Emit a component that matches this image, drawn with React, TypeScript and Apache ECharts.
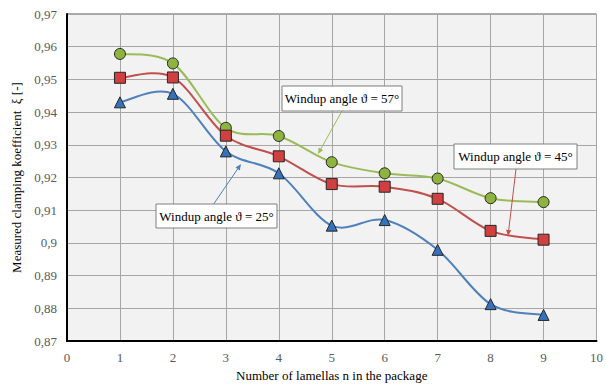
import React, { useEffect, useRef } from "react";
import * as echarts from "echarts";

// Number of lamellas in the package
const lamellas = [1, 2, 3, 4, 5, 6, 7, 8, 9];

// Measured clamping koefficient for each windup angle
const angle57 = [0.9578, 0.9549, 0.9352, 0.9327, 0.9247, 0.9213, 0.9197, 0.9137, 0.9125];
const angle45 = [0.9505, 0.9506, 0.9328, 0.9265, 0.918, 0.9172, 0.9135, 0.9037, 0.901];
const angle25 = [0.943, 0.9456, 0.928, 0.9213, 0.9053, 0.907, 0.8979, 0.8813, 0.878];

const yTicks = { min: 0.87, max: 0.97, step: 0.01 };
const xTicks = { min: 0, max: 10, step: 1 };

const FONT = "Liberation Serif";

const pairs = (ys: number[]) => lamellas.map((x, i) => [x, ys[i]]);

// A straight line with a small filled arrowhead at (x2, y2)
function arrow(x1: number, y1: number, x2: number, y2: number, color: string) {
  const ang = Math.atan2(y2 - y1, x2 - x1);
  const len = 6;
  const half = 2.6;
  const bx = x2 - len * Math.cos(ang);
  const by = y2 - len * Math.sin(ang);
  const px = -Math.sin(ang) * half;
  const py = Math.cos(ang) * half;
  return [
    {
      type: "line",
      z: 100,
      shape: { x1, y1, x2: bx, y2: by },
      style: { stroke: color, lineWidth: 1 },
    },
    {
      type: "polygon",
      z: 100,
      shape: { points: [[x2, y2], [bx + px, by + py], [bx - px, by - py]] },
      style: { fill: color },
    },
  ];
}

function callout(left: number, top: number, w: number, h: number, text: string) {
  return [
    {
      type: "rect",
      z: 100,
      shape: { x: left, y: top, width: w, height: h },
      style: { fill: "#ffffff", stroke: "#7f7f7f", lineWidth: 1 },
    },
    {
      type: "text",
      z: 101,
      x: left + w / 2,
      y: top + h / 2,
      style: {
        text,
        fill: "#000000",
        fontFamily: FONT,
        fontSize: 13,
        align: "center",
        verticalAlign: "middle",
      },
    },
  ];
}

export default function App() {
  const ref = useRef<HTMLDivElement>(null);

  useEffect(() => {
    if (!ref.current) return;
    const chart = echarts.init(ref.current, null, { renderer: "svg" });

    const fmt = (v: number) => String(Math.round(v * 100) / 100).replace(".", ",");

    // Smooth curve through the measured points: one cubic Bezier per segment,
    // control points from the neighbouring points (Catmull-Rom style).
    const curve = (name: string, data: number[], color: string) => ({
      name,
      type: "custom",
      data: pairs(data),
      z: 2,
      silent: true,
      renderItem: (params: any, api: any) => {
        const i = params.dataIndex;
        const n = data.length;
        if (i >= n - 1) return null;
        const p = (k: number) => {
          const j = Math.max(0, Math.min(n - 1, k));
          return api.coord([lamellas[j], data[j]]);
        };
        const p0 = p(i - 1);
        const p1 = p(i);
        const p2 = p(i + 1);
        const p3 = p(i + 2);
        const t = 1 / 6;
        return {
          type: "bezierCurve",
          shape: {
            x1: p1[0],
            y1: p1[1],
            x2: p2[0],
            y2: p2[1],
            cpx1: p1[0] + (p2[0] - p0[0]) * t,
            cpy1: p1[1] + (p2[1] - p0[1]) * t,
            cpx2: p2[0] - (p3[0] - p1[0]) * t,
            cpy2: p2[1] - (p3[1] - p1[1]) * t,
          },
          style: { stroke: color, lineWidth: 2, fill: "none" },
        };
      },
    });

    const markers = (
      name: string,
      data: number[],
      fill: string,
      symbol: string,
      size: number
    ) => ({
      name,
      type: "scatter",
      data: pairs(data),
      symbol,
      symbolSize: size,
      itemStyle: { color: fill, borderColor: "#262626", borderWidth: 1, opacity: 1 },
      z: 3,
    });

    chart.setOption({
      animation: false,
      backgroundColor: "#ffffff",
      textStyle: { fontFamily: FONT },
      grid: {
        left: 67,
        right: 7,
        top: 14,
        bottom: 41,
        show: true,
        backgroundColor: "#f2f2f2",
        borderColor: "#595959",
        borderWidth: 1,
      },
      xAxis: {
        type: "value",
        min: xTicks.min,
        max: xTicks.max,
        interval: xTicks.step,
        name: "Number of lamellas n in the package",
        nameLocation: "middle",
        nameGap: 27,
        nameTextStyle: { fontFamily: FONT, fontSize: 13, color: "#000" },
        axisLine: { lineStyle: { color: "#000", width: 2 } },
        axisTick: { show: false },
        axisLabel: { fontFamily: FONT, fontSize: 13, color: "#595959", margin: 10 },
        splitLine: { lineStyle: { color: "#a6a6a6", width: 1 } },
      },
      yAxis: {
        type: "value",
        min: yTicks.min,
        max: yTicks.max,
        interval: yTicks.step,
        name: "Measured clamping koefficient  ξ [-]",
        nameLocation: "middle",
        nameGap: 44,
        nameTextStyle: { fontFamily: FONT, fontSize: 13, color: "#000" },
        axisLine: { show: true, lineStyle: { color: "#000", width: 2 } },
        axisTick: { show: false },
        axisLabel: { fontFamily: FONT, fontSize: 13, color: "#595959", margin: 10, formatter: fmt },
        splitLine: { lineStyle: { color: "#a6a6a6", width: 1 } },
      },
      series: [
        curve("ϑ = 57° curve", angle57, "#9bbb59"),
        curve("ϑ = 45° curve", angle45, "#c0504d"),
        curve("ϑ = 25° curve", angle25, "#4f81bd"),
        markers("ϑ = 57°", angle57, "#8cb43e", "circle", 11),
        markers("ϑ = 45°", angle45, "#d04040", "rect", 11),
        markers("ϑ = 25°", angle25, "#3672bb", "triangle", 11),
      ],
      graphic: [
        ...arrow(342, 111, 318, 154, "#9bbb59"),
        ...arrow(516, 169, 508, 236, "#c0504d"),
        ...arrow(213, 205, 241, 164, "#4f81bd"),
        ...callout(282, 86, 120, 25, "Windup angle ϑ = 57°"),
        ...callout(454, 144, 123, 25, "Windup angle ϑ = 45°"),
        ...callout(156, 204, 121, 24, "Windup angle ϑ = 25°"),
      ],
    });

    return () => chart.dispose();
  }, []);

  return (
    <div
      ref={ref}
      style={{ position: "absolute", left: 0, top: 0, width: 606, height: 387 }}
    />
  );
}
